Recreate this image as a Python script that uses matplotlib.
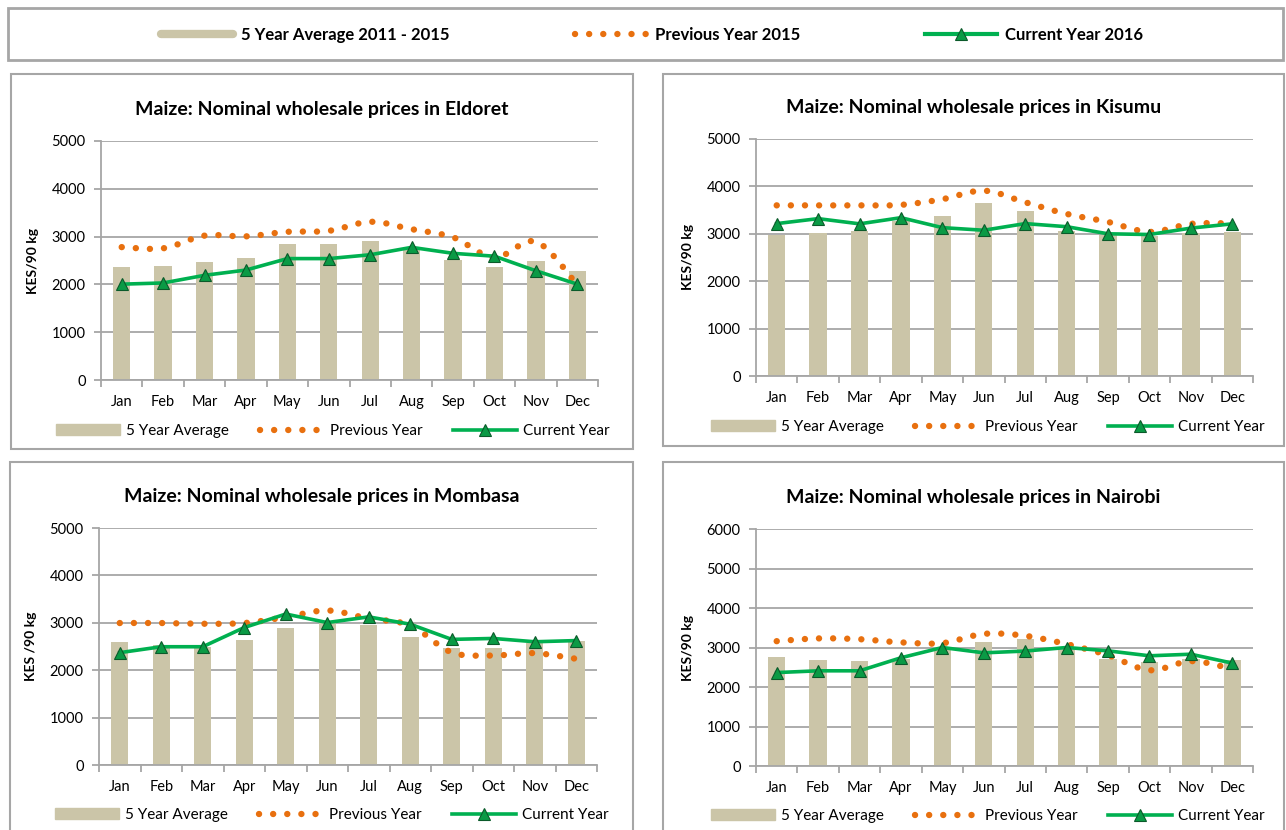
import numpy as np
import matplotlib.pyplot as plt
from matplotlib.lines import Line2D
from matplotlib.patches import Rectangle, Patch, PathPatch
from matplotlib.path import Path

plt.rcParams['font.family'] = ['Lato', 'DejaVu Sans']

months = ['Jan', 'Feb', 'Mar', 'Apr', 'May', 'Jun', 'Jul', 'Aug', 'Sep', 'Oct', 'Nov', 'Dec']

# Eldoret
eld_avg = [2360, 2390, 2475, 2545, 2850, 2845, 2910, 2730, 2500, 2355, 2495, 2285]
eld_prev = [2780, 2755, 3020, 3005, 3100, 3120, 3310, 3155, 2985, 2560, 2895, 1990]
eld_cur = [2005, 2030, 2190, 2300, 2540, 2540, 2620, 2775, 2650, 2590, 2285, 2005]
# Kisumu
kis_avg = [2965, 3015, 3050, 3260, 3380, 3645, 3485, 3050, 2965, 2950, 3015, 3040]
kis_prev = [3600, 3600, 3600, 3610, 3730, 3910, 3665, 3420, 3250, 3040, 3210, 3220]
kis_cur = [3215, 3320, 3210, 3340, 3130, 3075, 3215, 3150, 3000, 2985, 3120, 3210]
# Mombasa
mom_avg = [2600, 2540, 2500, 2635, 2880, 2990, 2950, 2690, 2460, 2470, 2575, 2615]
mom_prev = [2995, 2995, 2980, 2995, 3120, 3260, 3090, 2945, 2375, 2310, 2360, 2240]
mom_cur = [2370, 2495, 2495, 2900, 3185, 3005, 3125, 2970, 2650, 2670, 2600, 2625]
# Nairobi
nai_avg = [2765, 2680, 2665, 2720, 2950, 3145, 3210, 2950, 2700, 2640, 2700, 2680]
nai_prev = [3160, 3230, 3210, 3130, 3110, 3345, 3295, 3085, 2805, 2425, 2655, 2460]
nai_cur = [2365, 2410, 2410, 2740, 3000, 2865, 2910, 3000, 2915, 2790, 2830, 2605]

BAR = '#cbc5a8'
ORANGE = '#e8700f'
GREEN = '#00b050'
GRID = '#a6a6a6'
DOTS = (0, (0.01, 2.2))

W, H = 1286, 830
fig = plt.figure(figsize=(W / 100, H / 100), dpi=100)


def fx(px):
    return px / W


def fy(py):
    return 1 - py / H


def smooth_path(x, y):
    # Excel-like smoothed line as cubic bezier through the points
    x = np.asarray(x, float)
    y = np.asarray(y, float)
    pts = np.column_stack([x, y])
    verts = [pts[0]]
    codes = [Path.MOVETO]
    n = len(pts)
    for i in range(n - 1):
        p0 = pts[i - 1] if i > 0 else pts[i]
        p1 = pts[i]
        p2 = pts[i + 1]
        p3 = pts[i + 2] if i + 2 < n else pts[i + 1]
        c1 = p1 + (p2 - p0) / 6
        c2 = p2 - (p3 - p1) / 6
        verts += [c1, c2, p2]
        codes += [Path.CURVE4] * 3
    return Path(verts, codes)


def panel(box, ax_px, title, ylab, ymax, avg, prev, cur, leg_xy):
    x0, y0, x1, y1 = box
    fig.add_artist(Rectangle((fx(x0), fy(y1)), fx(x1) - fx(x0), fy(y0) - fy(y1),
                             transform=fig.transFigure, fill=False,
                             edgecolor=GRID, lw=1.5))
    l, r, top, bot = ax_px
    ax = fig.add_axes([fx(l), fy(bot), fx(r) - fx(l), fy(top) - fy(bot)])
    xs = np.arange(12)
    ax.bar(xs, avg, width=0.42, color=BAR, zorder=2)
    pp = PathPatch(smooth_path(xs, prev), fill=False, edgecolor=ORANGE, lw=4.6,
                   linestyle=DOTS, capstyle='round', zorder=3)
    ax.add_patch(pp)
    ax.plot(xs, cur, color=GREEN, lw=2.6, marker='^', markersize=9,
            markerfacecolor='#0a9a45', markeredgecolor='#0b5a2a',
            markeredgewidth=0.8, zorder=4)
    ax.set_xlim(-0.5, 11.5)
    ax.set_ylim(0, ymax)
    ax.set_yticks(np.arange(0, ymax + 1, 1000))
    ax.yaxis.grid(True, color=GRID, lw=1.3)
    ax.set_axisbelow(True)
    ax.set_xticks(xs)
    ax.set_xticklabels(months)
    ax.set_xticks(np.arange(-0.5, 12, 1), minor=True)
    ax.tick_params(axis='x', which='major', length=0, labelsize=10.5, pad=11)
    ax.tick_params(axis='x', which='minor', length=5, color=GRID, width=1.3)
    ax.tick_params(axis='y', length=5, color=GRID, width=1.3, labelsize=10.5,
                   pad=6)
    for s in ['top', 'right']:
        ax.spines[s].set_visible(False)
    for s in ['left', 'bottom']:
        ax.spines[s].set_color(GRID)
        ax.spines[s].set_linewidth(1.3)
    ax.set_ylabel(ylab, fontsize=10, fontweight='bold')
    ax.yaxis.set_label_coords(-0.125, 0.5)
    fig.text(fx((x0 + x1) / 2), fy(top - 32), title, ha='center', va='center',
             fontsize=14, fontweight='bold')
    handles = [Patch(color=BAR),
               Line2D([], [], color=ORANGE, lw=4.6, linestyle=DOTS,
                      dash_capstyle='round'),
               Line2D([], [], color=GREEN, lw=2.6, marker='^', markersize=9,
                      markerfacecolor='#0a9a45', markeredgecolor='#0b5a2a',
                      markeredgewidth=0.8)]
    ax.legend(handles, ['5 Year Average', 'Previous Year', 'Current Year'],
              loc='center', bbox_to_anchor=(fx(leg_xy[0]), fy(leg_xy[1])),
              bbox_transform=fig.transFigure, ncol=3, frameon=False,
              fontsize=11, handlelength=4.2, handleheight=0.7,
              handletextpad=0.4, columnspacing=2.0)
    return ax


panel((11, 74, 633, 449), (101, 598, 141, 380),
      'Maize: Nominal wholesale prices in Eldoret', 'KES/90 kg', 5000,
      eld_avg, eld_prev, eld_cur, (333, 431))
panel((663, 74, 1284, 446), (756, 1253, 139, 376),
      'Maize: Nominal wholesale prices in Kisumu', 'KES/90 kg', 5000,
      kis_avg, kis_prev, kis_cur, (988, 427))
panel((10, 462, 633, 840), (99, 597, 528, 765),
      'Maize: Nominal wholesale prices in Mombasa', 'KES /90 kg', 5000,
      mom_avg, mom_prev, mom_cur, (332, 815))
panel((663, 462, 1284, 840), (756, 1253, 529, 766),
      'Maize: Nominal wholesale prices in Nairobi', 'KES/90 kg', 6000,
      nai_avg, nai_prev, nai_cur, (988, 816))

# top legend
fig.add_artist(Rectangle((fx(8), fy(60)), fx(1283) - fx(8), fy(8) - fy(60),
                         transform=fig.transFigure, fill=False,
                         edgecolor=GRID, lw=2))
top_handles = [Line2D([], [], color=BAR, lw=6, solid_capstyle='round'),
               Line2D([], [], color=ORANGE, lw=4.6, linestyle=DOTS,
                      dash_capstyle='round'),
               Line2D([], [], color=GREEN, lw=3, marker='^', markersize=9,
                      markerfacecolor='#0a9a45', markeredgecolor='#0b5a2a',
                      markeredgewidth=0.8)]
fig.legend(top_handles, ['5 Year Average 2011 - 2015', 'Previous Year 2015',
                         'Current Year 2016'],
           loc='center', bbox_to_anchor=(fx(652), fy(35)), ncol=3,
           frameon=False, prop={'weight': 'bold', 'size': 12},
           handlelength=4.3, handletextpad=0.5, columnspacing=7.5)

fig.savefig('out.png', dpi=100)
